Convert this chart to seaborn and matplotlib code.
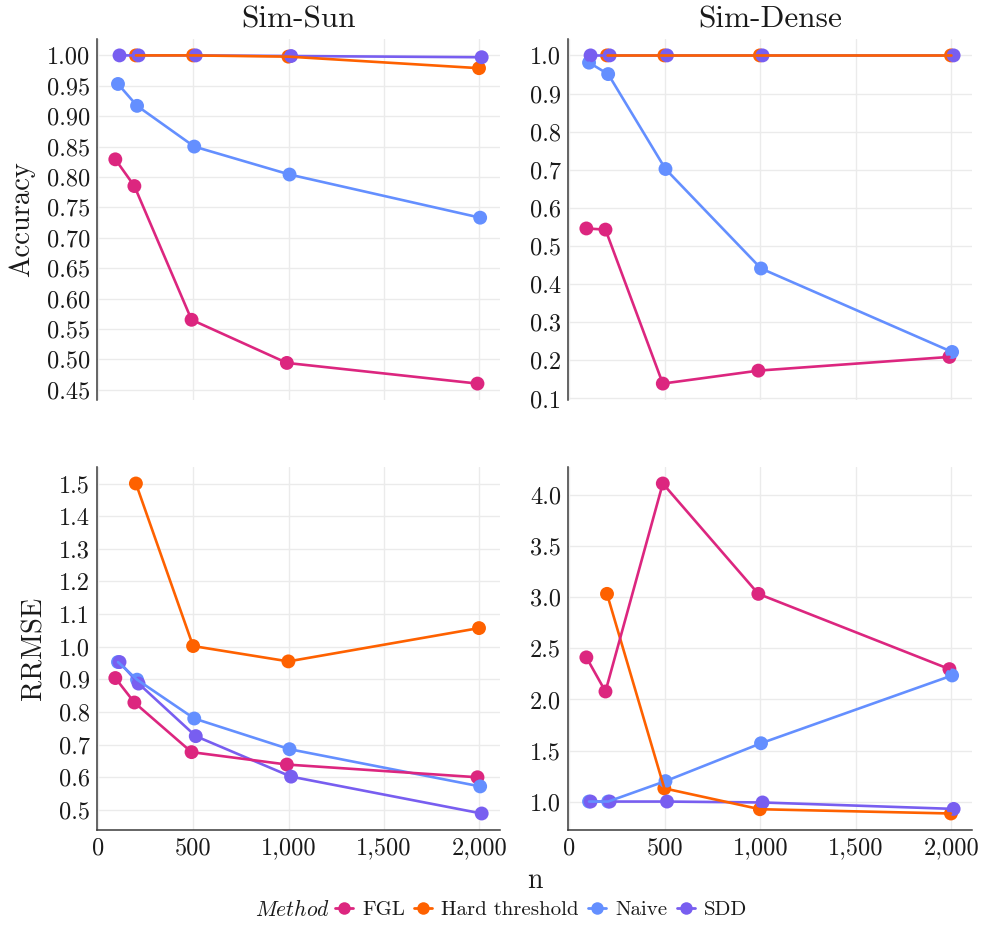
import numpy as np
import pandas as pd
import matplotlib
matplotlib.use("Agg")
import matplotlib.pyplot as plt
from matplotlib.lines import Line2D
import seaborn as sns

# ---- data -------------------------------------------------------------
methods = ["FGL", "Hard threshold", "Naive", "SDD"]
datasets = ["Sim-Sun", "Sim-Dense"]
metrics = ["Accuracy", "RRMSE"]

n_all = [100, 200, 500, 1000, 2000]
n_hard = [200, 500, 1000, 2000]

# Accuracy, Sim-Sun
acc_sun_fgl = [0.829, 0.785, 0.565, 0.494, 0.460]
acc_sun_hard = [1.000, 1.000, 0.998, 0.979]
acc_sun_naive = [0.953, 0.917, 0.850, 0.804, 0.733]
acc_sun_sdd = [1.000, 1.000, 1.000, 0.999, 0.997]

# Accuracy, Sim-Dense
acc_dense_fgl = [0.546, 0.543, 0.139, 0.173, 0.209]
acc_dense_hard = [1.000, 1.000, 1.000, 1.000]
acc_dense_naive = [0.981, 0.951, 0.702, 0.441, 0.222]
acc_dense_sdd = [1.000, 1.000, 1.000, 1.000, 1.000]

# RRMSE, Sim-Sun
rr_sun_fgl = [0.904, 0.829, 0.677, 0.639, 0.600]
rr_sun_hard = [1.500, 1.002, 0.955, 1.057]
rr_sun_naive = [0.953, 0.899, 0.780, 0.686, 0.572]
rr_sun_sdd = [0.953, 0.887, 0.726, 0.602, 0.489]

# RRMSE, Sim-Dense
rr_dense_fgl = [2.412, 2.078, 4.115, 3.034, 2.297]
rr_dense_hard = [3.034, 1.129, 0.925, 0.883]
rr_dense_naive = [1.000, 1.000, 1.200, 1.571, 2.235]
rr_dense_sdd = [1.000, 1.000, 1.000, 0.991, 0.928]

x_ticks = [0, 500, 1000, 1500, 2000]
x_tick_labels = ["0", "500", "1,000", "1,500", "2,000"]
y_ticks = {
    ("Accuracy", "Sim-Sun"): [0.45, 0.50, 0.55, 0.60, 0.65, 0.70, 0.75, 0.80, 0.85, 0.90, 0.95, 1.00],
    ("Accuracy", "Sim-Dense"): [0.1, 0.2, 0.3, 0.4, 0.5, 0.6, 0.7, 0.8, 0.9, 1.0],
    ("RRMSE", "Sim-Sun"): [0.5, 0.6, 0.7, 0.8, 0.9, 1.0, 1.1, 1.2, 1.3, 1.4, 1.5],
    ("RRMSE", "Sim-Dense"): [1.0, 1.5, 2.0, 2.5, 3.0, 3.5, 4.0],
}
y_decimals = {
    ("Accuracy", "Sim-Sun"): 2,
    ("Accuracy", "Sim-Dense"): 1,
    ("RRMSE", "Sim-Sun"): 1,
    ("RRMSE", "Sim-Dense"): 1,
}

series = {
    ("Accuracy", "Sim-Sun"): [acc_sun_fgl, acc_sun_hard, acc_sun_naive, acc_sun_sdd],
    ("Accuracy", "Sim-Dense"): [acc_dense_fgl, acc_dense_hard, acc_dense_naive, acc_dense_sdd],
    ("RRMSE", "Sim-Sun"): [rr_sun_fgl, rr_sun_hard, rr_sun_naive, rr_sun_sdd],
    ("RRMSE", "Sim-Dense"): [rr_dense_fgl, rr_dense_hard, rr_dense_naive, rr_dense_sdd],
}

rows = []
for (metric, dataset), vals in series.items():
    for method, v in zip(methods, vals):
        ns = n_hard if method == "Hard threshold" else n_all
        for n, y in zip(ns, v):
            rows.append(dict(metric=metric, dataset=dataset, Method=method, n=n, value=y))
df = pd.DataFrame(rows)

# small horizontal dodge so overlapping methods stay visible
dodge = {"FGL": -10.0, "Hard threshold": -2.0, "Naive": 4.0, "SDD": 12.0}
df["n_dodged"] = df["n"] + df["Method"].map(dodge)

palette = {"FGL": "#DC267F", "Hard threshold": "#FE6100", "Naive": "#648FFF", "SDD": "#785EF0"}
draw_order = ["SDD", "Naive", "Hard threshold", "FGL"]

# ---- styling ----------------------------------------------------------
sns.set_style("white")
plt.rcParams["font.family"] = ["cmr10", "DejaVu Serif"]
plt.rcParams["mathtext.fontset"] = "cm"
plt.rcParams["axes.formatter.use_mathtext"] = True
plt.rcParams["axes.unicode_minus"] = False

W, H = 984, 926
fig = plt.figure(figsize=(W / 100, H / 100), dpi=100)

col_px = {"Sim-Sun": (97, 500), "Sim-Dense": (568, 972)}
row_px = {"Accuracy": (39, 400), "RRMSE": (467, 830)}

axis_color = "#3a3a3a"
grid_color = "#ebebeb"
text_color = "#1a1a1a"

for metric in metrics:
    for dataset in datasets:
        x0, x1 = col_px[dataset]
        y0, y1 = row_px[metric]
        ax = fig.add_axes([x0 / W, 1 - y1 / H, (x1 - x0) / W, (y1 - y0) / H])
        sub = df[(df.metric == metric) & (df.dataset == dataset)]

        sns.scatterplot(data=sub, x="n_dodged", y="value", hue="Method",
                        hue_order=draw_order, palette=palette, s=100,
                        edgecolor="none", legend=False, ax=ax, zorder=3)
        sns.lineplot(data=sub, x="n_dodged", y="value", hue="Method",
                     hue_order=draw_order, palette=palette, linewidth=1.9,
                     estimator=None, sort=True, legend=False, ax=ax, zorder=4)

        # 5% expansion of the data range on both axes
        xmin, xmax = df["n_dodged"].min(), df["n_dodged"].max()
        xr = xmax - xmin
        ax.set_xlim(xmin - 0.05 * xr, xmax + 0.05 * xr)
        ymin, ymax = sub["value"].min(), sub["value"].max()
        yr = ymax - ymin
        ax.set_ylim(ymin - 0.05 * yr, ymax + 0.05 * yr)

        ax.set_xticks(x_ticks)
        yt = y_ticks[(metric, dataset)]
        ax.set_yticks(yt)
        d = y_decimals[(metric, dataset)]
        ax.set_yticklabels([f"{t:.{d}f}" for t in yt])

        ax.grid(True, color=grid_color, linewidth=1.0)
        ax.set_axisbelow(True)
        for s in ["top", "right"]:
            ax.spines[s].set_visible(False)
        ax.spines["left"].set_color(axis_color)
        ax.spines["left"].set_linewidth(1.1)
        if metric == "RRMSE":
            ax.spines["bottom"].set_color(axis_color)
            ax.spines["bottom"].set_linewidth(1.1)
            ax.set_xticklabels(x_tick_labels)
            ax.tick_params(axis="x", length=3, width=1, color=axis_color,
                           labelsize=17.5, pad=2, labelcolor=text_color)
        else:
            ax.spines["bottom"].set_visible(False)
            ax.tick_params(axis="x", length=0, labelbottom=False)
        ax.tick_params(axis="y", length=3, width=1, color=axis_color,
                       labelsize=17.5, pad=2, labelcolor=text_color)
        ax.set_xlabel("")
        if dataset == "Sim-Sun":
            ax.set_ylabel(metric, fontsize=20.5, labelpad=8, color=text_color)
        else:
            ax.set_ylabel("")
        if metric == "Accuracy":
            ax.set_title(dataset, fontsize=22.5, pad=8, color=text_color)

# shared x label
fig.text((97 + 972) / 2 / W, 1 - 881 / H, "n", ha="center", va="center",
         fontsize=20, color=text_color)

# legend along the bottom with an inline italic title
fig.text(330 / W, 1 - 910 / H, r"$Method$", ha="right", va="center",
         fontsize=15.5, color=text_color)
handles = [Line2D([0], [0], color=palette[m], lw=2.0, marker="o", markersize=9,
                  markeredgewidth=0) for m in methods]
fig.legend(handles, methods, loc="center left",
           bbox_to_anchor=(335 / W, 1 - 910 / H), ncol=4, frameon=False,
           fontsize=15, handlelength=0.85, handletextpad=0.45,
           columnspacing=0.45, borderpad=0, borderaxespad=0, labelcolor=text_color)

fig.savefig("out.png", dpi=100)
